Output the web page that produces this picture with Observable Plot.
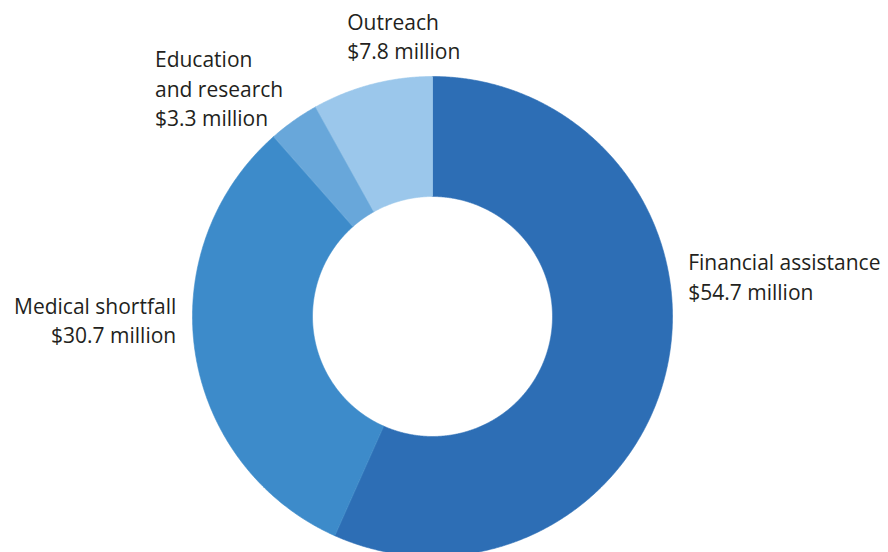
<!DOCTYPE html>
<html>
<head>
<meta charset="utf-8">
<script src="https://cdn.jsdelivr.net/npm/d3@7"></script>
<script src="https://cdn.jsdelivr.net/npm/@observablehq/plot@0.6"></script>
<style>
  html, body { margin: 0; padding: 0; background: #fff; overflow: hidden; }
  #chart svg { display: block; }
</style>
</head>
<body>
<div id="chart"></div>
<script>
// ---- data ----
const categories = ["Financial assistance", "Medical shortfall", "Education and research", "Outreach"];
const labelLines = ["Financial assistance", "Medical shortfall", "Education\nand research", "Outreach"];
const values = [54.7, 30.7, 3.3, 7.8];
const valueLabels = ["$54.7 million", "$30.7 million", "$3.3 million", "$7.8 million"];
const colors = ["#2d6eb5", "#3d8bca", "#68a7da", "#9bc7eb"];

// ---- layout (not data) ----
const W = 888, H = 552;
const cx = 432, cy = 316, R = 240;   // pixel geometry
const innerRatio = 0.5;
const fontSize = 21;
const labelLayout = [
  {anchor: "start", dx: 21, dy: -117},
  {anchor: "end", dx: -19, dy: -60},
  {anchor: "start", dx: -139, dy: -74},
  {anchor: "start", dx: -25, dy: -75}
];

const table = categories.map((c, i) => ({category: c, value: values[i], label: labelLines[i] + "\n" + valueLabels[i]}));
const arcs = d3.pie().sort(null).value(d => d.value).startAngle(0).endAngle(2 * Math.PI)(table);

// polygon points for each slice (unit radius coordinates, y up)
const pts = [];
arcs.forEach(a => {
  const n = Math.max(8, Math.ceil((a.endAngle - a.startAngle) / 0.005));
  for (let k = 0; k <= n; k++) {
    const t = a.startAngle + (a.endAngle - a.startAngle) * k / n;
    pts.push({category: a.data.category, x: Math.sin(t), y: Math.cos(t)});
  }
  for (let k = n; k >= 0; k--) {
    const t = a.startAngle + (a.endAngle - a.startAngle) * k / n;
    pts.push({category: a.data.category, x: innerRatio * Math.sin(t), y: innerRatio * Math.cos(t)});
  }
});

const labelMarks = arcs.map((a, i) => {
  const mid = (a.startAngle + a.endAngle) / 2;
  const L = labelLayout[i];
  return Plot.text([{x: Math.sin(mid), y: Math.cos(mid), label: a.data.label}], {
    x: "x", y: "y", text: "label",
    textAnchor: L.anchor, lineAnchor: "top",
    dx: L.dx, dy: L.dy,
    lineHeight: 1.4,
    fontSize: fontSize,
    fill: "#231f20"
  });
});

const chart = Plot.plot({
  width: W, height: H,
  margin: 0,
  style: {fontFamily: "'Open Sans', sans-serif", background: "#fff", overflow: "hidden"},
  x: {type: "linear", domain: [-cx / R, (W - cx) / R], axis: null},
  y: {type: "linear", domain: [-(H - cy) / R, cy / R], axis: null},
  color: {domain: categories, range: colors},
  marks: [
    Plot.line(pts, {x: "x", y: "y", z: "category", fill: "category", stroke: "category", strokeWidth: 0.6, curve: "linear-closed"}),
    ...labelMarks
  ]
});
document.getElementById("chart").appendChild(chart);
</script>
</body>
</html>
